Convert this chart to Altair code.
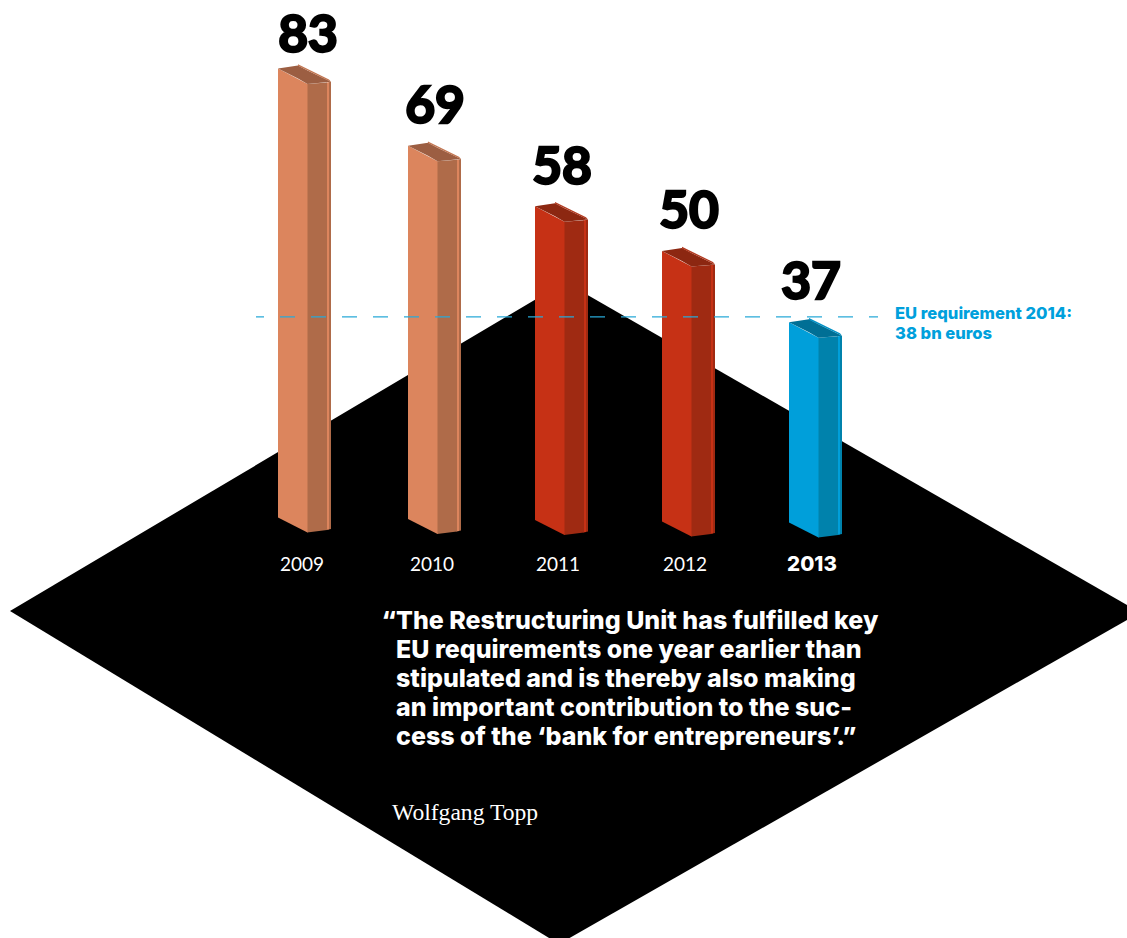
import altair as alt
import pandas as pd

# Source figures (bn euros)
YEARS = [2009, 2010, 2011, 2012, 2013]
VALUES = [83, 69, 58, 50, 37]
REQUIREMENT = 38
QUOTE_LINES = [
    "The Restructuring Unit has fulfilled key",
    "EU requirements one year earlier than",
    "stipulated and is thereby also making",
    "an important contribution to the suc-",
    "cess of the ‘bank for entrepreneurs’.”",
]
NOTE_LINES = ["EU requirement 2014:", "38 bn euros"]
AUTHOR = "Wolfgang Topp"

W, H = 1127, 938
PX_PER_BN = 5.41          # vertical pixels per bn euros
ZERO_PX = 522.4           # pixel row of value 0 on the value scale
HEAVY = "Inter"

# Isometric layout of each column: left edge, pixel row of its foot, label offsets
LEFT = dict(zip(YEARS, [278, 408, 535, 662, 789]))
FOOT = dict(zip(YEARS, [517.5, 519, 520, 521.5, 522.4]))
LABEL_DX = dict(zip(YEARS, [30, 27, 27, 27, 22]))
LABEL_DY = dict(zip(YEARS, [16, 23, 22, 23, 23]))
YEAR_X = dict(zip(YEARS, [302, 432, 558, 685, 812]))

PEACH = ("#DC855D", "#AF6B49", "#9C5E42", "#C27652")
RED = ("#C63115", "#9F2A12", "#8C2711", "#B23A20")
BLUE = ("#009FDA", "#0082AC", "#006F95", "#0090C4")
PALETTE = dict(zip(YEARS, [PEACH, PEACH, RED, RED, BLUE]))

# Each face: list of (dx, top offset, foot offset) in pixels from the column's corner.
# Listed back to front; each starts a little under its neighbour so no seam shows.
FACES = [
    ("edge_dark", 1, [(50.5, 13.8, 12.1), (53, 13.4, 11.5)]),
    ("edge_light", 0, [(48.5, 14, 12.6), (51, 13.7, 12)]),
    ("side", 1, [(29, 15.5, 15), (49, 14, 12.5)]),
    ("front", 0, [(0, 0, 0), (29.5, 15.5, 15)]),
]
# Top cap, given as (dx, upper offset, lower offset) from the column's top corner
CAP = [(0, 0, 0), (20, -3, 10), (29.5, 2, 15.5), (53, 13.4, 13.4)]
CAP_RIM = [(20, -4.2, -2.6), (51, 11, 12.6), (53, 13.4, 13.4)]


def to_units(px_from_zero):
    return px_from_zero / PX_PER_BN


rows = []
for year, value in zip(YEARS, VALUES):
    lift = to_units(ZERO_PX - FOOT[year])
    for name, shade, pts in FACES:
        for dx, top, foot in pts:
            rows.append(dict(year=year, face=name, px=LEFT[year] + dx,
                             upper=value + lift - to_units(top),
                             lower=lift - to_units(foot),
                             color=PALETTE[year][shade]))
    for dx, up, low in CAP:
        rows.append(dict(year=year, face="cap", px=LEFT[year] + dx,
                         upper=value + lift - to_units(up),
                         lower=value + lift - to_units(low),
                         color=PALETTE[year][2]))
    for dx, up, low in CAP_RIM:
        rows.append(dict(year=year, face="rim", px=LEFT[year] + dx,
                         upper=value + lift - to_units(up),
                         lower=value + lift - to_units(low),
                         color=PALETTE[year][3]))
faces = pd.DataFrame(rows)

x_scale = alt.Scale(domain=[0, W], range=[0, W], nice=False, zero=False)
y_scale = alt.Scale(domain=[to_units(ZERO_PX - H), to_units(ZERO_PX)],
                    range=[H, 0], nice=False, zero=False)
X = lambda field: alt.X(field, type="quantitative", scale=x_scale, axis=None)
Y = lambda field: alt.Y(field, type="quantitative", scale=y_scale, axis=None)

# Black ground plane behind the columns
ground = pd.DataFrame({
    "px": [10, 559, 565, 1140],
    "up_px": [611, 285.5, 282, 612.5],
    "low_px": [611, 944, 940.6, 612.5],
})
ground["upper"] = to_units(ZERO_PX - ground["up_px"])
ground["lower"] = to_units(ZERO_PX - ground["low_px"])
plane = alt.Chart(ground).mark_area(color="black", clip=True, line=False).encode(
    x=X("px"), y=Y("upper"), y2=alt.Y2("lower"))


def face_layer(name):
    return alt.Chart(faces[faces["face"] == name]).mark_area(opacity=1).encode(
        x=X("px"), y=Y("upper"), y2=alt.Y2("lower"),
        color=alt.Color("color:N", scale=None),
        detail="year:N",
    )


columns = [face_layer(n) for n in ["edge_dark", "edge_light", "side", "front", "cap", "rim"]]

# Dashed requirement line
rule_df = pd.DataFrame({"v": [REQUIREMENT], "x0": [256], "x1": [878]})
rule = alt.Chart(rule_df).mark_rule(
    color="#29A9D8", strokeWidth=1.3, strokeDash=[15, 16], strokeDashOffset=7
).encode(x=X("x0"), x2=alt.X2("x1"), y=Y("v"))

# Value labels above each column, thickened with a stroke of their own colour
value_labels = pd.DataFrame({
    "year": YEARS,
    "value": VALUES,
})
value_labels["px"] = value_labels["year"].map(lambda y: LEFT[y] + LABEL_DX[y])
value_labels["at"] = [v + to_units(ZERO_PX - FOOT[y] + LABEL_DY[y])
                      for y, v in zip(YEARS, VALUES)]
values_text = alt.Chart(value_labels).mark_text(
    font="Lato", fontWeight=700, fontSize=51.5, color="black",
    stroke="black", strokeWidth=2.4, align="center", baseline="alphabetic",
).encode(x=X("px"), y=Y("at"), text="value:Q")


def text_layer(labels, xs, rows_px, **style):
    df = pd.DataFrame({"label": labels, "px": xs,
                       "at": [to_units(ZERO_PX - r) for r in rows_px]})
    return alt.Chart(df).mark_text(baseline="alphabetic", **style).encode(
        x=X("px"), y=Y("at"), text="label:N")


years_light = text_layer([str(y) for y in YEARS[:-1]], [YEAR_X[y] for y in YEARS[:-1]],
                         [571] * 4, font="Lato", fontWeight=400, fontSize=19,
                         color="white", align="center")
year_bold = text_layer([str(YEARS[-1])], [YEAR_X[YEARS[-1]]], [571],
                       font=HEAVY, fontWeight=800, fontSize=20.5,
                       color="white", align="center")
note = text_layer(NOTE_LINES, [895, 895], [318.5, 338.5], font=HEAVY, fontWeight=800,
                  fontSize=16.6, color="#00A0DC", align="left")
quote = text_layer(QUOTE_LINES, [396] * 5, [629, 658, 687, 716, 745], font=HEAVY,
                   fontWeight=800, fontSize=25, color="white", align="left")
open_mark = text_layer(["“"], [396], [629], font=HEAVY, fontWeight=800, fontSize=25,
                       color="white", align="right")
author = text_layer([AUTHOR], [392], [820], font="Liberation Serif", fontSize=23.6,
                    color="white", align="left")

chart = alt.layer(
    plane, *columns, rule, values_text, years_light, year_bold, note, quote, open_mark, author
).properties(
    width=W, height=H, padding=0, background="white",
    autosize=alt.AutoSizeParams(type="none"),
).configure_view(stroke=None)

chart.save("out.html", embed_options={"renderer": "svg", "actions": False})
